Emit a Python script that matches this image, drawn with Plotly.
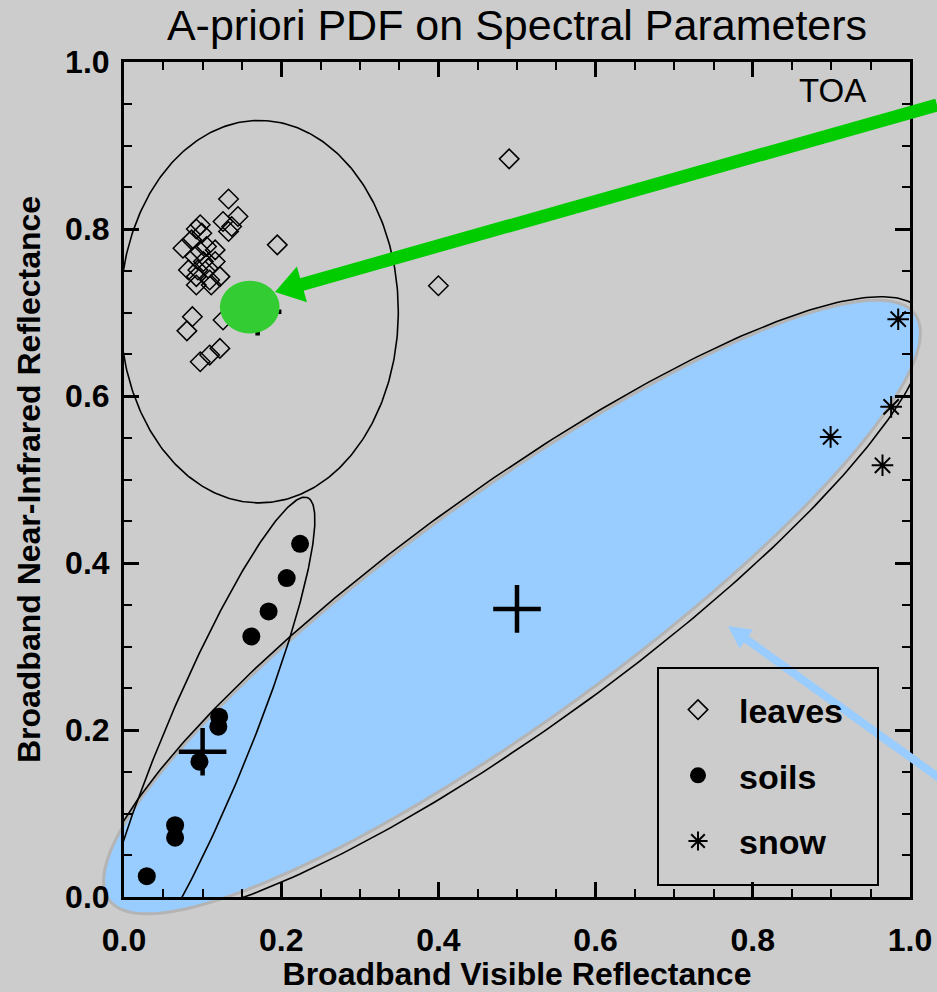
import numpy as np
import plotly.graph_objects as go

# ---------------- data ----------------
leaves_x = [0.133, 0.145, 0.126, 0.137, 0.133, 0.097, 0.092, 0.099, 0.075, 0.086,
            0.195, 0.105, 0.116, 0.097, 0.090, 0.116, 0.101, 0.082, 0.094, 0.107,
            0.122, 0.092, 0.109, 0.092, 0.111, 0.087, 0.126, 0.080, 0.122, 0.109,
            0.097, 0.400, 0.490]
leaves_y = [0.836, 0.815, 0.809, 0.803, 0.797, 0.805, 0.800, 0.795, 0.777, 0.787,
            0.781, 0.779, 0.775, 0.773, 0.767, 0.761, 0.761, 0.751, 0.751, 0.753,
            0.743, 0.743, 0.739, 0.733, 0.733, 0.695, 0.691, 0.678, 0.657, 0.649,
            0.641, 0.732, 0.884]

soils_x = [0.029, 0.065, 0.065, 0.096, 0.120, 0.121, 0.162, 0.184, 0.207, 0.224]
soils_y = [0.025, 0.071, 0.086, 0.162, 0.204, 0.216, 0.312, 0.342, 0.382, 0.423]

snow_x = [0.899, 0.965, 0.976, 0.985]
snow_y = [0.551, 0.517, 0.587, 0.692]

# class means (crosses)
mean_x = [0.170, 0.100, 0.500]
mean_y = [0.701, 0.174, 0.345]

# PDF ellipses: centre and two conjugate semi-axis vectors (data units)
leaves_ell_c = [0.172, 0.701]
leaves_ell_v1 = [0.177, 0.0]
leaves_ell_v2 = [0.0, 0.229]

soils_ell_c = [0.100, 0.174]
soils_ell_v1 = [0.1336, 0.3042]
soils_ell_v2 = [0.0505, -0.0197]

all_ell_c = [0.4962, 0.3461]
all_ell_v1 = [0.5187, 0.3549]
all_ell_v2 = [0.0883, -0.1143]

toa_ell_c = [0.4936, 0.3473]
toa_ell_v1 = [0.5126, 0.3507]
toa_ell_v2 = [0.0845, -0.1095]

# highlighted prior (green disc)
green_c = [0.160, 0.7065]
green_r = [0.038, 0.0315]

# arrows (paper coords: tip, tail)
green_arrow = [[0.1921, 0.7246], [1.0344, 0.9485]]
blue_arrow = [[0.7684, 0.3246], [1.0636, 0.1246]]

# ---------------- layout constants ----------------
W, H = 937, 992
ML, MR, MT, MB = 124, 27, 62, 95
PW, PH = W - ML - MR, H - MT - MB
FONT = "Liberation Sans, Arial, Helvetica, sans-serif"
BG = "#cccccc"


def ellipse(c, v1, v2, n=361):
    t = np.linspace(0, 2 * np.pi, n)
    x = c[0] + np.cos(t) * v1[0] + np.sin(t) * v2[0]
    y = c[1] + np.cos(t) * v1[1] + np.sin(t) * v2[1]
    return x, y


def arrow_shapes(tip, tail, head_len, head_w, shaft_w, color):
    # work in pixels, return paper-coordinate shapes
    tp = np.array([tip[0] * PW, tip[1] * PH])
    tl = np.array([tail[0] * PW, tail[1] * PH])
    d = tl - tp
    d = d / np.hypot(*d)
    n = np.array([-d[1], d[0]])
    back = tp + d * head_len
    p1 = back + n * head_w / 2
    p2 = back - n * head_w / 2
    to_p = lambda p: (p[0] / PW, p[1] / PH)
    b = to_p(back + d * (-2))
    path = "M {:.5f},{:.5f} L {:.5f},{:.5f} L {:.5f},{:.5f} Z".format(
        *to_p(tp), *to_p(p1), *to_p(p2))
    return [
        dict(type="line", xref="paper", yref="paper", x0=b[0], y0=b[1],
             x1=tail[0], y1=tail[1], line=dict(color=color, width=shaft_w), layer="above"),
        dict(type="path", xref="paper", yref="paper", path=path,
             fillcolor=color, line=dict(color=color, width=0), layer="above"),
    ]


fig = go.Figure()

# filled TOA ellipse (not clipped) as a paper shape (axes span [0,1] = paper)
ex, ey = ellipse(toa_ell_c, toa_ell_v1, toa_ell_v2)
blue_path = "M " + " L ".join(f"{a:.5f},{b:.5f}" for a, b in zip(ex, ey)) + " Z"
shapes = [dict(type="path", xref="paper", yref="paper", path=blue_path,
               fillcolor="#99ccff", line=dict(color="#b4b4b4", width=3), layer="below")]

# outline ellipses
for c, v1, v2, w in [(leaves_ell_c, leaves_ell_v1, leaves_ell_v2, 1.6),
                     (soils_ell_c, soils_ell_v1, soils_ell_v2, 1.6),
                     (all_ell_c, all_ell_v1, all_ell_v2, 1.6)]:
    x, y = ellipse(c, v1, v2)
    fig.add_trace(go.Scatter(x=x, y=y, mode="lines", line=dict(color="black", width=w),
                             showlegend=False, hoverinfo="skip"))

# means
fig.add_trace(go.Scatter(x=mean_x, y=mean_y, mode="markers", showlegend=False,
                         marker=dict(symbol="cross-thin", size=34, color="black",
                                     line=dict(color="black", width=4.5))))

fig.add_trace(go.Scatter(x=leaves_x, y=leaves_y, mode="markers", name="leaves",
                         legendgroup="a",
                         marker=dict(symbol="diamond-open", size=15, color="black",
                                     line=dict(color="black", width=1.5))))
fig.add_trace(go.Scatter(x=soils_x, y=soils_y, mode="markers", name="soils",
                         legendgroup="b",
                         marker=dict(symbol="circle", size=18, color="black")))
fig.add_trace(go.Scatter(x=snow_x, y=snow_y, mode="markers", name="snow",
                         legendgroup="c",
                         marker=dict(symbol="asterisk-open", size=18, color="black",
                                     line=dict(color="black", width=2))))

# green disc
shapes.append(dict(type="circle", xref="x", yref="y",
                   x0=green_c[0] - green_r[0], x1=green_c[0] + green_r[0],
                   y0=green_c[1] - green_r[1], y1=green_c[1] + green_r[1],
                   fillcolor="#33cc33", line=dict(width=0), layer="above"))
shapes += arrow_shapes(*green_arrow, head_len=28, head_w=37, shaft_w=13, color="#00cc00")
shapes += arrow_shapes(*blue_arrow, head_len=22.5, head_w=23, shaft_w=8, color="#99ccff")

# legend frame
shapes.append(dict(type="rect", xref="paper", yref="paper",
                   x0=(658 - ML) / PW, x1=(878 - ML) / PW,
                   y0=(H - MB - 885) / PH, y1=(H - MB - 668) / PH,
                   line=dict(color="black", width=2), fillcolor="rgba(0,0,0,0)", layer="above"))

axis_common = dict(range=[0, 1], dtick=0.2, tickformat=".1f", showgrid=False, zeroline=False,
                   showline=True, linecolor="black", linewidth=3, mirror="allticks",
                   ticks="inside", ticklen=15, tickwidth=2.5, tickcolor="black",
                   minor=dict(dtick=0.05, ticks="inside", ticklen=8, tickwidth=2, tickcolor="black"),
                   tickfont=dict(family=FONT, size=32, color="black", weight="bold"))

fig.update_layout(
    width=W, height=H,
    margin=dict(l=ML, r=MR, t=MT, b=MB, autoexpand=False),
    paper_bgcolor=BG, plot_bgcolor=BG,
    title=dict(text="A-priori PDF on Spectral Parameters", x=0.5, xref="paper",
               y=1 - 25 / H, yref="container", yanchor="middle", xanchor="center",
               font=dict(family=FONT, size=43, color="black")),
    xaxis=dict(**axis_common, ticklabelstandoff=13,
               title=dict(text="Broadband Visible Reflectance", standoff=13,
                          font=dict(family=FONT, size=32, color="black", weight="bold"))),
    yaxis=dict(**axis_common, ticklabelstandoff=5,
               title=dict(text="Broadband Near-Infrared Reflectance", standoff=15,
                          font=dict(family=FONT, size=32, color="black", weight="bold"))),
    legend=dict(x=(657 - ML) / PW, y=(H - MB - 681) / PH, xanchor="left", yanchor="top",
                bgcolor="rgba(0,0,0,0)", borderwidth=0, tracegroupgap=18.5,
                itemwidth=72,
                font=dict(family=FONT, size=34, color="black", weight="bold")),
    shapes=shapes,
    annotations=[dict(text="TOA", xref="paper", yref="paper", x=(832 - ML) / PW,
                      y=(H - MB - 90) / PH, showarrow=False, xanchor="center",
                      yanchor="middle",
                      font=dict(family=FONT, size=33, color="black"))],
    showlegend=True,
)

fig.write_html("out.html")
